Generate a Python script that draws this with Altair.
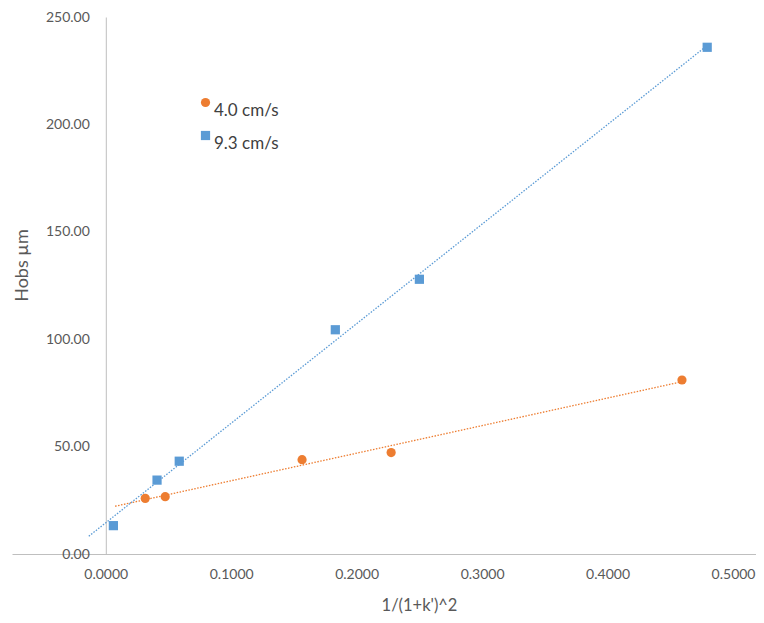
import altair as alt
import pandas as pd

# ---- data ----
series_names = ["4.0 cm/s", "9.3 cm/s"]
x_40 = [0.0315, 0.0474, 0.1565, 0.2275, 0.4593]
y_40 = [25.9, 26.7, 43.9, 47.2, 81.0]
x_93 = [0.0061, 0.0409, 0.0586, 0.1830, 0.2500, 0.4794]
y_93 = [13.2, 34.4, 43.2, 104.4, 127.9, 235.9]
trend_extent_40 = [0.0075, 0.4593]
trend_extent_93 = [-0.0135, 0.4794]
x_ticks = [0.0, 0.1, 0.2, 0.3, 0.4, 0.5]
y_ticks = [0, 50, 100, 150, 200, 250]
x_domain = [-0.0747, 0.5183]
y_domain = [0, 250]
colors = ["#ED7D31", "#5B9BD5"]
shapes = ["circle", "square"]

df = pd.DataFrame(
    {
        "x": x_40 + x_93,
        "y": y_40 + y_93,
        "series": [series_names[0]] * len(x_40) + [series_names[1]] * len(x_93),
    }
)

FONT = "Lato"
TXT = "#595959"

x_enc = alt.X(
    "x:Q",
    scale=alt.Scale(domain=x_domain, nice=False, zero=False),
    axis=alt.Axis(
        values=x_ticks,
        format=".4f",
        title="1/(1+k')^2",
        labelPadding=13,
        titleX=407,
        titleY=51.5,
        titleAlign="center",
        titleBaseline="middle",
    ),
)
y_enc = alt.Y(
    "y:Q",
    scale=alt.Scale(domain=y_domain, nice=False),
    axis=alt.Axis(
        values=y_ticks,
        format=".2f",
        title="Hobs  µm",
        offset=-93.8,
        labelPadding=16.5,
        titleX=-83.5,
        titleY=248,
        titleAlign="center",
        titleBaseline="middle",
    ),
)

base = alt.Chart(df)

points = base.mark_point(filled=True, opacity=1, size=85).encode(
    x=x_enc,
    y=y_enc,
    color=alt.Color(
        "series:N",
        scale=alt.Scale(domain=series_names, range=colors),
        legend=alt.Legend(title=None),
    ),
    shape=alt.Shape(
        "series:N",
        scale=alt.Scale(domain=series_names, range=shapes),
        legend=alt.Legend(title=None),
    ),
)

line_40 = (
    base.transform_filter(alt.datum.series == series_names[0])
    .transform_regression("x", "y", extent=trend_extent_40)
    .mark_line(color=colors[0], strokeDash=[1.5, 1.5], strokeWidth=1.3)
    .encode(x=x_enc, y=y_enc)
)
line_93 = (
    base.transform_filter(alt.datum.series == series_names[1])
    .transform_regression("x", "y", extent=trend_extent_93)
    .mark_line(color=colors[1], strokeDash=[1.5, 1.5], strokeWidth=1.3)
    .encode(x=x_enc, y=y_enc)
)

chart = (
    alt.layer(line_40, line_93, points)
    .properties(
        width=744,
        height=537,
        autosize=alt.AutoSizeParams(type="none"),
        padding={"left": 4, "top": 9, "right": 0, "bottom": 61},
    )
    .configure_view(stroke=None)
    .configure_axis(
        grid=False,
        ticks=False,
        tickSize=0,
        domainColor="#bfbfbf",
        domainWidth=1,
        labelColor=TXT,
        labelFont=FONT,
        labelFontSize=14,
        titleColor=TXT,
        titleFont=FONT,
        titleFontSize=16.5,
        titleFontWeight="normal",
    )
    .configure_axisY(titleFontSize=18)
    .configure_legend(
        orient="none",
        legendX=185,
        legendY=77,
        padding=0,
        labelFont=FONT,
        labelFontSize=17,
        labelColor="#404040",
        labelBaseline="top",
        labelOffset=0,
        symbolSize=85,
        rowPadding=8,
    )
)

chart.save("out.html", embed_options={"renderer": "svg", "actions": False})
